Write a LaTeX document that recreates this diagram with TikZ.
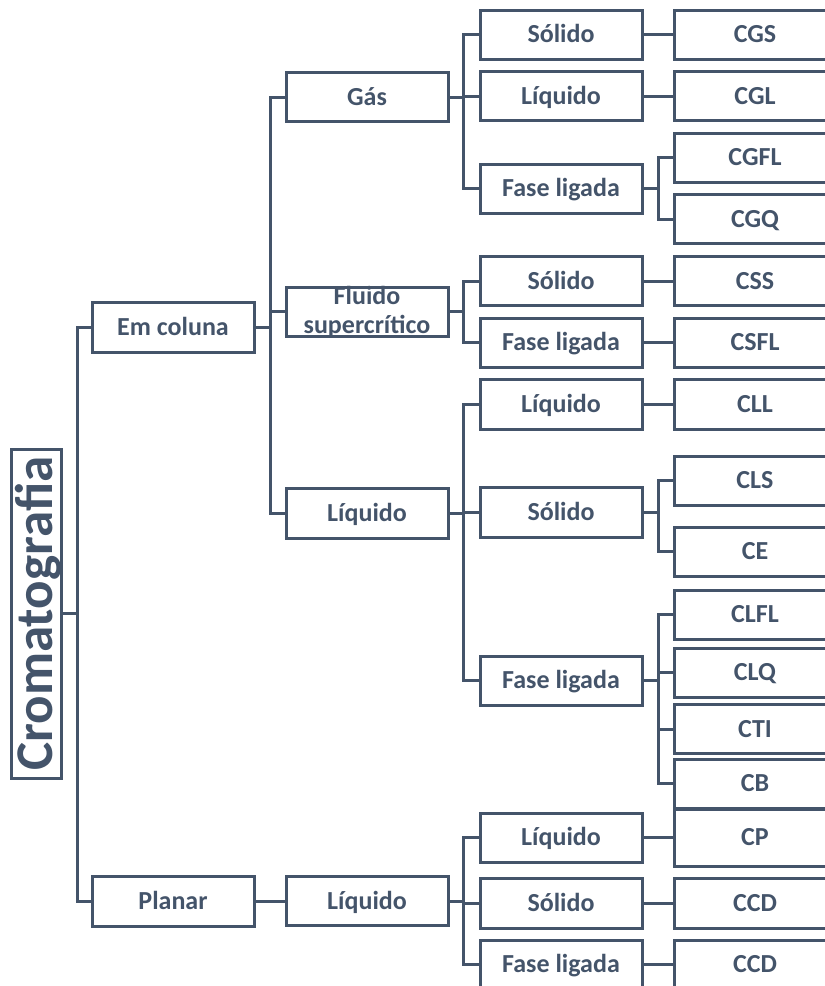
\documentclass[tikz,border=0pt]{standalone}
\usepackage{fontspec}
\setmainfont{Carlito}
\definecolor{slate}{HTML}{44546A}
\tikzset{
  box/.style={draw=slate, line width=3pt, text=slate,
    font=\bfseries\fontsize{26}{29}\selectfont,
    minimum width=162pt, minimum height=49pt, inner sep=0pt,
    text height=20pt, text depth=4pt, line join=miter},
  rootbox/.style={draw=slate, line width=3pt, text=slate,
    font=\bfseries\fontsize{53}{60}\selectfont, rotate=90,
    minimum width=329pt, minimum height=50pt, inner sep=0pt,
    text height=40pt, text depth=8pt},
  conn/.style={draw=slate, line width=3pt, line join=miter}
}
\newcommand\elb[3]{\draw[conn] (#1.east) -- (#1.east -| #2) |- (#3.west);}
\begin{document}
\begin{tikzpicture}[x=1pt,y=-1pt]
\clip (0,0) rectangle (825,986);
% root
\node[rootbox] (root) at (36,613.5) {Cromatografia};
% level 1
\node[box, minimum height=50pt] (em) at (173,327) {Em coluna};
\node[box, minimum height=50pt] (planar) at (173,901) {Planar};
% level 2
\node[box] (gas) at (367,97) {Gás};
\node[box] (fluido) at (367,311.5) {\smash{\raisebox{0pt}{\begin{tabular}{@{}c@{}}Fluido\\supercrítico\end{tabular}}}};
\node[box, minimum height=50pt] (liq) at (367,513) {Líquido};
\node[box] (pliq) at (367,901) {Líquido};
% level 3
\node[box] (gsol) at (561,34.5) {Sólido};
\node[box] (gliq) at (561,96) {Líquido};
\node[box] (gfase) at (561,188.5) {Fase ligada};
\node[box] (fsol) at (561,281) {Sólido};
\node[box] (ffase) at (561,342.5) {Fase ligada};
\node[box, minimum height=50pt] (lliq) at (561,404) {Líquido};
\node[box, minimum height=50pt] (lsol) at (561,512) {Sólido};
\node[box] (lfase) at (561,680.5) {Fase ligada};
\node[box] (pliq3) at (561,837.5) {Líquido};
\node[box, minimum height=50pt] (psol) at (561,903) {Sólido};
\node[box] (pfase) at (561,964.5) {Fase ligada};
% level 4
\node[box] (cgs) at (755,34.5) {CGS};
\node[box] (cgl) at (755,96) {CGL};
\node[box] (cgfl) at (755,157.5) {CGFL};
\node[box] (cgq) at (755,219) {CGQ};
\node[box] (css) at (755,281) {CSS};
\node[box] (csfl) at (755,342.5) {CSFL};
\node[box, minimum height=50pt] (cll) at (755,404) {CLL};
\node[box] (cls) at (755,480.5) {CLS};
\node[box] (ce) at (755,551.5) {CE};
\node[box] (clfl) at (755,614.5) {CLFL};
\node[box] (clq) at (755,672.5) {CLQ};
\node[box] (cti) at (755,729) {CTI};
\node[box] (cb) at (755,783.5) {CB};
\node[box, minimum height=57pt] (cp) at (755,837.5) {CP};
\node[box, minimum height=50pt] (ccd1) at (755,903) {CCD};
\node[box] (ccd2) at (755,964.5) {CCD};
% buses
\coordinate (b0) at (77,0);
\coordinate (b1) at (270,0);
\coordinate (b2) at (463,0);
\coordinate (b3) at (658,0);
% connectors
\draw[conn] (root.south) -- (root.south -| b0) |- (em.west);
\draw[conn] (root.south) -- (root.south -| b0) |- (planar.west);
\elb{em}{b1}{gas}
\elb{em}{b1}{fluido}
\elb{em}{b1}{liq}
\draw[conn] (planar.east) -- (pliq.west);
\elb{gas}{b2}{gsol}
\elb{gas}{b2}{gliq}
\elb{gas}{b2}{gfase}
\elb{fluido}{b2}{fsol}
\elb{fluido}{b2}{ffase}
\elb{liq}{b2}{lliq}
\elb{liq}{b2}{lsol}
\elb{liq}{b2}{lfase}
\elb{pliq}{b2}{pliq3}
\elb{pliq}{b2}{psol}
\elb{pliq}{b2}{pfase}
\draw[conn] (gsol.east) -- (cgs.west);
\draw[conn] (gliq.east) -- (cgl.west);
\elb{gfase}{b3}{cgfl}
\elb{gfase}{b3}{cgq}
\draw[conn] (fsol.east) -- (css.west);
\draw[conn] (ffase.east) -- (csfl.west);
\draw[conn] (lliq.east) -- (cll.west);
\elb{lsol}{b3}{cls}
\elb{lsol}{b3}{ce}
\elb{lfase}{b3}{clfl}
\elb{lfase}{b3}{clq}
\elb{lfase}{b3}{cti}
\elb{lfase}{b3}{cb}
\draw[conn] (pliq3.east) -- (cp.west);
\draw[conn] (psol.east) -- (ccd1.west);
\draw[conn] (pfase.east) -- (ccd2.west);
\end{tikzpicture}
\end{document}
